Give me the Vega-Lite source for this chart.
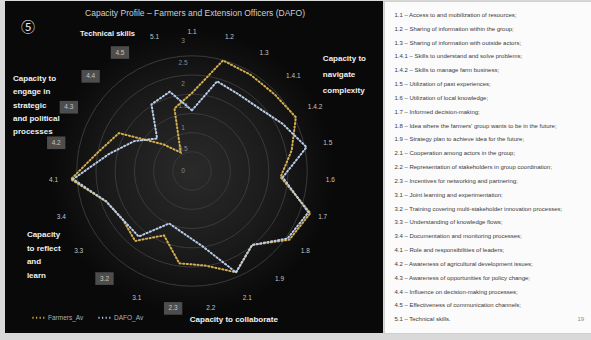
{
  "$schema": "https://vega.github.io/schema/vega-lite/v6.json",
  "background": "#d9d9d9",
  "padding": {"left": 5, "top": 0, "right": 0, "bottom": 8},
  "spacing": 0,
  "config": {"view": {"stroke": null}, "font": "Liberation Sans", "text": {"font": "Liberation Sans"}},
  "datasets": {
    "radar": [
      {"code": "1.1", "i": 0, "Farmers_Av": 1.8, "DAFO_Av": 1.4},
      {"code": "1.2", "i": 1, "Farmers_Av": 2.65, "DAFO_Av": 2.15},
      {"code": "1.3", "i": 2, "Farmers_Av": 2.6, "DAFO_Av": 2.07},
      {"code": "1.4.1", "i": 3, "Farmers_Av": 2.6, "DAFO_Av": 2.12},
      {"code": "1.4.2", "i": 4, "Farmers_Av": 2.7, "DAFO_Av": 2.36},
      {"code": "1.5", "i": 5, "Farmers_Av": 2.35, "DAFO_Av": 2.7},
      {"code": "1.6", "i": 6, "Farmers_Av": 2.05, "DAFO_Av": 2.1},
      {"code": "1.7", "i": 7, "Farmers_Av": 2.9, "DAFO_Av": 2.85},
      {"code": "1.8", "i": 8, "Farmers_Av": 2.75, "DAFO_Av": 2.7},
      {"code": "1.9", "i": 9, "Farmers_Av": 2.2, "DAFO_Av": 2.2},
      {"code": "2.1", "i": 10, "Farmers_Av": 2.55, "DAFO_Av": 2.55},
      {"code": "2.2", "i": 11, "Farmers_Av": 2.2, "DAFO_Av": 1.75},
      {"code": "2.3", "i": 12, "Farmers_Av": 2.15, "DAFO_Av": 1.45},
      {"code": "3.1", "i": 13, "Farmers_Av": 1.62, "DAFO_Av": 1.32},
      {"code": "3.2", "i": 14, "Farmers_Av": 2.08, "DAFO_Av": 1.95},
      {"code": "3.3", "i": 15, "Farmers_Av": 1.95, "DAFO_Av": 1.95},
      {"code": "3.4", "i": 16, "Farmers_Av": 2.1, "DAFO_Av": 2.1},
      {"code": "4.1", "i": 17, "Farmers_Av": 2.8, "DAFO_Av": 2.75},
      {"code": "4.2", "i": 18, "Farmers_Av": 2.2, "DAFO_Av": 1.95},
      {"code": "4.3", "i": 19, "Farmers_Av": 1.9, "DAFO_Av": 1.5},
      {"code": "4.4", "i": 20, "Farmers_Av": 0.9, "DAFO_Av": 1.1},
      {"code": "4.5", "i": 21, "Farmers_Av": 0.5, "DAFO_Av": 1.8},
      {"code": "5.1", "i": 22, "Farmers_Av": 1.5, "DAFO_Av": 1.9}
    ],
    "rings": [{"r": 0}, {"r": 0.5}, {"r": 1}, {"r": 1.5}, {"r": 2}, {"r": 2.5}, {"r": 3}],
    "items": [
      {"item": "1.1 – Access to and mobilization of resources;"},
      {"item": "1.2 – Sharing of information within the group;"},
      {"item": "1.3 – Sharing of information with outside actors;"},
      {"item": "1.4.1 – Skills to understand and solve problems;"},
      {"item": "1.4.2 – Skills to manage farm business;"},
      {"item": "1.5 – Utilization of past experiences;"},
      {"item": "1.6 – Utilization of local knowledge;"},
      {"item": "1.7 – Informed decision-making;"},
      {"item": "1.8 – Idea where the farmers' group wants to be in the future;"},
      {"item": "1.9 – Strategy plan to achieve idea for the future;"},
      {"item": "2.1 – Cooperation among actors in the group;"},
      {"item": "2.2 – Representation of stakeholders in group coordination;"},
      {"item": "2.3 – Incentives for networking and partnering;"},
      {"item": "3.1 – Joint learning and experimentation;"},
      {"item": "3.2 – Training covering multi-stakeholder innovation processes;"},
      {"item": "3.3 – Understanding of knowledge flows;"},
      {"item": "3.4 – Documentation and monitoring processes;"},
      {"item": "4.1 – Role and responsibilities of leaders;"},
      {"item": "4.2 – Awareness of agricultural development issues;"},
      {"item": "4.3 – Awareness of opportunities for policy change;"},
      {"item": "4.4 – Influence on decision-making processes;"},
      {"item": "4.5 – Effectiveness of communication channels;"},
      {"item": "5.1 – Technical skills."}
    ]
  },
  "hconcat": [
    {
      "width": 378,
      "height": 332,
      "view": {"fill": "#090909", "stroke": null},
      "layer": [
        {
          "data": {"values": [{}]},
          "mark": {"type": "point", "shape": "circle", "size": 80425, "filled": true, "opacity": 1, "strokeWidth": 0,
            "fill": {"gradient": "radial", "stops": [{"offset": 0, "color": "#2a2a2a"}, {"offset": 0.6, "color": "#1a1a1a"}, {"offset": 1, "color": "#090909"}]}},
          "encoding": {
            "x": {"datum": 0, "type": "quantitative", "scale": {"domain": [-4.315, 4.408], "nice": false, "zero": false}, "axis": null},
            "y": {"datum": 0, "type": "quantitative", "scale": {"domain": [-3.738, 3.923], "nice": false, "zero": false}, "axis": null}
          }
        },
        {
          "data": {"name": "rings"},
          "transform": [{"filter": "datum.r > 0"}],
          "mark": {"type": "point", "shape": "circle", "filled": false, "stroke": "#3a3a3a", "strokeWidth": 1, "opacity": 1},
          "encoding": {
            "x": {"datum": 0, "type": "quantitative", "scale": {"domain": [-4.315, 4.408], "nice": false, "zero": false}, "axis": null},
            "y": {"datum": 0, "type": "quantitative", "scale": {"domain": [-3.738, 3.923], "nice": false, "zero": false}, "axis": null},
            "size": {"field": "r", "type": "quantitative", "scale": {"type": "pow", "exponent": 2, "domain": [0, 3], "range": [0, 53093]}, "legend": null}
          }
        },
        {
          "data": {"name": "rings"},
          "mark": {"type": "text", "fontSize": 6.5, "color": "#8a8a8a", "align": "center", "baseline": "middle", "dx": -9},
          "encoding": {
            "x": {"datum": 0, "type": "quantitative", "scale": {"domain": [-4.315, 4.408], "nice": false, "zero": false}, "axis": null},
            "y": {"field": "r", "type": "quantitative", "scale": {"domain": [-3.738, 3.923], "nice": false, "zero": false}, "axis": null},
            "text": {"field": "r", "type": "quantitative", "format": "~g"}
          }
        },
        {
          "data": {"name": "radar"},
          "transform": [
            {"filter": "indexof(['2.3','3.2','4.2','4.3','4.4','4.5'], datum.code) >= 0"},
            {"calculate": "2*PI*datum.i/23", "as": "theta"},
            {"calculate": "3.2*sin(datum.theta)", "as": "lx"},
            {"calculate": "3.2*cos(datum.theta)", "as": "ly"}
          ],
          "mark": {"type": "point", "shape": "M-1.45,-1L1.45,-1L1.45,1L-1.45,1Z", "size": 160, "filled": true, "color": "#4d4d4d", "opacity": 1},
          "encoding": {
            "x": {"field": "lx", "type": "quantitative", "scale": {"domain": [-4.315, 4.408], "nice": false, "zero": false}, "axis": null},
            "y": {"field": "ly", "type": "quantitative", "scale": {"domain": [-3.738, 3.923], "nice": false, "zero": false}, "axis": null}
          }
        },
        {
          "data": {"name": "radar"},
          "transform": [
            {"calculate": "2*PI*datum.i/23", "as": "theta"},
            {"calculate": "3.2*sin(datum.theta)", "as": "lx"},
            {"calculate": "3.2*cos(datum.theta)", "as": "ly"}
          ],
          "mark": {"type": "text", "fontSize": 6.5, "color": "#c4c4c4", "align": "center", "baseline": "middle"},
          "encoding": {
            "x": {"field": "lx", "type": "quantitative", "scale": {"domain": [-4.315, 4.408], "nice": false, "zero": false}, "axis": null},
            "y": {"field": "ly", "type": "quantitative", "scale": {"domain": [-3.738, 3.923], "nice": false, "zero": false}, "axis": null},
            "text": {"field": "code", "type": "nominal"}
          }
        },
        {
          "data": {"name": "radar"},
          "transform": [
            {"fold": ["Farmers_Av", "DAFO_Av"], "as": ["series", "value"]},
            {"calculate": "2*PI*datum.i/23", "as": "theta"},
            {"calculate": "datum.value*sin(datum.theta)", "as": "px"},
            {"calculate": "datum.value*cos(datum.theta)", "as": "py"}
          ],
          "mark": {"type": "line", "interpolate": "linear-closed", "strokeWidth": 2, "strokeDash": [1.2, 2.4], "strokeCap": "round"},
          "encoding": {
            "x": {"field": "px", "type": "quantitative", "scale": {"domain": [-4.315, 4.408], "nice": false, "zero": false}, "axis": null},
            "y": {"field": "py", "type": "quantitative", "scale": {"domain": [-3.738, 3.923], "nice": false, "zero": false}, "axis": null},
            "order": {"field": "i", "type": "quantitative"},
            "color": {
              "field": "series", "type": "nominal",
              "scale": {"domain": ["Farmers_Av", "DAFO_Av"], "range": ["#d2ae4e", "#b9cbe8"]},
              "legend": {"title": null, "orient": "none", "legendX": 26, "legendY": 309, "direction": "horizontal",
                "symbolType": "stroke", "symbolDash": [1.2, 2.4], "symbolStrokeWidth": 2, "symbolSize": 150,
                "labelColor": "#b0b0b0", "labelFontSize": 6.5, "columnPadding": 10, "labelOffset": 2}
            }
          }
        },
        {
          "data": {"values": [{}]},
          "mark": {"type": "text", "fontSize": 8.5, "color": "#cfcfcf", "align": "center", "baseline": "middle"},
          "encoding": {
            "x": {"datum": 0.07, "type": "quantitative", "scale": {"domain": [-4.315, 4.408], "nice": false, "zero": false}, "axis": null},
            "y": {"datum": 3.64, "type": "quantitative", "scale": {"domain": [-3.738, 3.923], "nice": false, "zero": false}, "axis": null},
            "text": {"value": "Capacity Profile – Farmers and Extension Officers (DAFO)"}
          }
        },
        {
          "data": {"values": [{}]},
          "mark": {"type": "text", "fontSize": 14, "color": "#e8e8e8", "align": "center", "baseline": "middle", "font": "Noto Sans CJK SC"},
          "encoding": {
            "x": {"datum": -3.785, "type": "quantitative", "scale": {"domain": [-4.315, 4.408], "nice": false, "zero": false}, "axis": null},
            "y": {"datum": 3.3, "type": "quantitative", "scale": {"domain": [-3.738, 3.923], "nice": false, "zero": false}, "axis": null},
            "text": {"value": "⑤"}
          }
        },
        {
          "data": {"values": [{}]},
          "mark": {"type": "text", "fontSize": 7.5, "fontWeight": "bold", "color": "#f0f0f0", "align": "center", "baseline": "middle"},
          "encoding": {
            "x": {"datum": -1.95, "type": "quantitative", "scale": {"domain": [-4.315, 4.408], "nice": false, "zero": false}, "axis": null},
            "y": {"datum": 3.16, "type": "quantitative", "scale": {"domain": [-3.738, 3.923], "nice": false, "zero": false}, "axis": null},
            "text": {"value": "Technical skills"}
          }
        },
        {
          "data": {"values": [{}]},
          "mark": {"type": "text", "fontSize": 8, "fontWeight": "bold", "color": "#f0f0f0", "align": "left", "baseline": "top", "lineHeight": 16},
          "encoding": {
            "x": {"datum": 3.02, "type": "quantitative", "scale": {"domain": [-4.315, 4.408], "nice": false, "zero": false}, "axis": null},
            "y": {"datum": 2.68, "type": "quantitative", "scale": {"domain": [-3.738, 3.923], "nice": false, "zero": false}, "axis": null},
            "text": {"value": ["Capacity to", "navigate", "complexity"]}
          }
        },
        {
          "data": {"values": [{}]},
          "mark": {"type": "text", "fontSize": 8, "fontWeight": "bold", "color": "#f0f0f0", "align": "left", "baseline": "top", "lineHeight": 13.3},
          "encoding": {
            "x": {"datum": -4.13, "type": "quantitative", "scale": {"domain": [-4.315, 4.408], "nice": false, "zero": false}, "axis": null},
            "y": {"datum": 2.215, "type": "quantitative", "scale": {"domain": [-3.738, 3.923], "nice": false, "zero": false}, "axis": null},
            "text": {"value": ["Capacity to", "engage in", "strategic", "and political", "processes"]}
          }
        },
        {
          "data": {"values": [{}]},
          "mark": {"type": "text", "fontSize": 8, "fontWeight": "bold", "color": "#f0f0f0", "align": "left", "baseline": "top", "lineHeight": 13.7},
          "encoding": {
            "x": {"datum": -3.81, "type": "quantitative", "scale": {"domain": [-4.315, 4.408], "nice": false, "zero": false}, "axis": null},
            "y": {"datum": -1.385, "type": "quantitative", "scale": {"domain": [-3.738, 3.923], "nice": false, "zero": false}, "axis": null},
            "text": {"value": ["Capacity", "to reflect", "and", "learn"]}
          }
        },
        {
          "data": {"values": [{}]},
          "mark": {"type": "text", "fontSize": 8, "fontWeight": "bold", "color": "#f0f0f0", "align": "left", "baseline": "middle"},
          "encoding": {
            "x": {"datum": -0.05, "type": "quantitative", "scale": {"domain": [-4.315, 4.408], "nice": false, "zero": false}, "axis": null},
            "y": {"datum": -3.43, "type": "quantitative", "scale": {"domain": [-3.738, 3.923], "nice": false, "zero": false}, "axis": null},
            "text": {"value": "Capacity to collaborate"}
          }
        }
      ]
    },
    {
      "width": 208,
      "height": 332,
      "view": {"fill": "#fbfbfb", "stroke": "#cfcfcf"},
      "layer": [
        {
          "data": {"name": "items"},
          "mark": {"type": "text", "align": "left", "baseline": "middle", "fontSize": 6, "color": "#3a3a3a"},
          "encoding": {
            "x": {"datum": 0, "type": "quantitative", "scale": {"domain": [-1.05, 20], "nice": false, "zero": false}, "axis": null},
            "y": {"field": "item", "type": "ordinal", "sort": null, "scale": {"type": "point", "padding": 1.1}, "axis": null},
            "text": {"field": "item", "type": "nominal"}
          }
        },
        {
          "data": {"values": [{}]},
          "mark": {"type": "text", "align": "right", "baseline": "middle", "fontSize": 6, "color": "#8a8a8a"},
          "encoding": {
            "x": {"datum": 19.2, "type": "quantitative", "scale": {"domain": [-1.05, 20], "nice": false, "zero": false}, "axis": null},
            "y": {"datum": "5.1 – Technical skills.", "type": "ordinal", "axis": null},
            "text": {"value": "19"}
          }
        }
      ]
    }
  ]
}
